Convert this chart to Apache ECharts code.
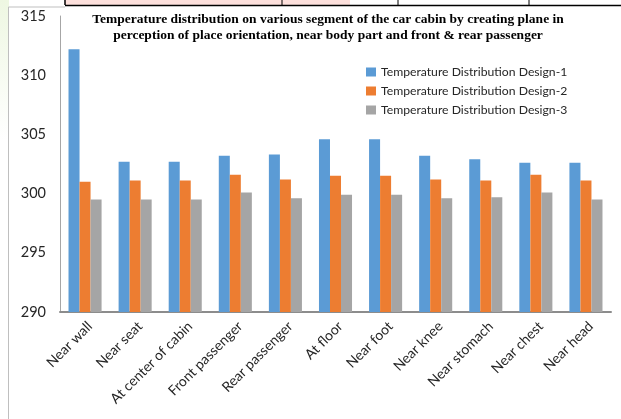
<!DOCTYPE html>
<html>
<head>
<meta charset="utf-8">
<script src="https://cdn.jsdelivr.net/npm/echarts@6/dist/echarts.min.js"></script>
<style>
  html, body { margin: 0; padding: 0; background: #fff; }
  #chart { width: 621px; height: 419px; }
</style>
</head>
<body>
<div id="chart"></div>
<script>
// Cabin measuring positions
const categories = [
  'Near wall', 'Near seat', 'At center of cabin', 'Front passenger',
  'Rear passenger', 'At floor', 'Near foot', 'Near knee',
  'Near stomach', 'Near chest', 'Near head'
];

// Temperatures (K) per design
const design1 = [312.2, 302.7, 302.7, 303.2, 303.3, 304.6, 304.6, 303.2, 302.9, 302.6, 302.6];
const design2 = [301.0, 301.1, 301.1, 301.6, 301.2, 301.5, 301.5, 301.2, 301.1, 301.6, 301.1];
const design3 = [299.5, 299.5, 299.5, 300.1, 299.6, 299.9, 299.9, 299.6, 299.7, 300.1, 299.5];

const seriesNames = [
  'Temperature Distribution Design-1',
  'Temperature Distribution Design-2',
  'Temperature Distribution Design-3'
];

const titleLines = [
  'Temperature distribution on various segment of the car cabin by creating plane in',
  'perception of place orientation, near body part and front & rear passenger'
];

const yMin = 290, yMax = 315, yStep = 5;

const colors = ['#5B9BD5', '#ED7D31', '#A5A5A5'];
const uiFont = 'Lato, "Open Sans", sans-serif';

const chart = echarts.init(document.getElementById('chart'), null, { renderer: 'canvas' });

function barSeries(name, data, i) {
  return {
    name: name,
    type: 'bar',
    data: data,
    barGap: '0%',
    barCategoryGap: '34%',
    itemStyle: { color: colors[i] }
  };
}

chart.setOption({
  animation: false,
  backgroundColor: '#ffffff',
  color: colors,
  graphic: [
    // faint page tint at the left margin
    {
      type: 'rect', z: -10,
      shape: { x: 0, y: 0, width: 9, height: 140 },
      style: {
        fill: new echarts.graphic.LinearGradient(0, 0, 0, 1, [
          { offset: 0, color: '#eef7e2' },
          { offset: 1, color: '#ffffff' }
        ])
      }
    },
    // table row above the figure
    { type: 'rect', z: -5, shape: { x: 65, y: 0, width: 285, height: 5 }, style: { fill: '#fde0dc' } },
    { type: 'line', shape: { x1: 65, y1: 5.5, x2: 621, y2: 5.5 }, style: { stroke: '#000', lineWidth: 1.5 } },
    { type: 'line', shape: { x1: 65, y1: 0, x2: 65, y2: 5 }, style: { stroke: '#000', lineWidth: 1.5 } },
    { type: 'line', shape: { x1: 282, y1: 0, x2: 282, y2: 5 }, style: { stroke: '#000', lineWidth: 1 } },
    { type: 'line', shape: { x1: 398, y1: 0, x2: 398, y2: 5 }, style: { stroke: '#000', lineWidth: 1 } },
    { type: 'line', shape: { x1: 529, y1: 0, x2: 529, y2: 5 }, style: { stroke: '#000', lineWidth: 1 } },
    // figure frame
    { type: 'line', shape: { x1: 8.5, y1: 7, x2: 8.5, y2: 419 }, style: { stroke: '#bfbfbf', lineWidth: 1 } },
    { type: 'line', shape: { x1: 8.5, y1: 7, x2: 65, y2: 7 }, style: { stroke: '#bfbfbf', lineWidth: 1 } },
    // chart title
    {
      type: 'text',
      x: 328, y: 11,
      style: {
        text: titleLines.join('\n'),
        font: 'bold 13.5px "Liberation Serif", "Times New Roman", serif',
        fill: '#000',
        align: 'center',
        lineHeight: 16.5
      }
    }
  ],
  legend: {
    orient: 'vertical',
    left: 361,
    top: 60,
    itemWidth: 10,
    itemHeight: 9,
    itemGap: 5,
    icon: 'rect',
    data: seriesNames,
    textStyle: { fontFamily: uiFont, fontSize: 12.2, color: '#262626', lineHeight: 14 }
  },
  grid: { left: 60, right: 10, top: 16, bottom: 107, containLabel: false },
  xAxis: {
    type: 'category',
    data: categories,
    axisLine: { lineStyle: { color: '#8c8c8c', width: 2 } },
    axisTick: { show: false },
    axisLabel: {
      interval: 0,
      rotate: 45,
      margin: 7,
      verticalAlign: 'top',
      fontFamily: uiFont,
      fontSize: 14,
      color: '#262626'
    }
  },
  yAxis: {
    type: 'value',
    min: yMin,
    max: yMax,
    interval: yStep,
    axisLine: { show: true, lineStyle: { color: '#a6a6a6', width: 1 } },
    axisTick: { show: false },
    splitLine: { show: false },
    axisLabel: { margin: 14, fontFamily: uiFont, fontSize: 14.5, color: '#262626' }
  },
  series: [
    barSeries(seriesNames[0], design1, 0),
    barSeries(seriesNames[1], design2, 1),
    barSeries(seriesNames[2], design3, 2)
  ]
});
</script>
</body>
</html>
